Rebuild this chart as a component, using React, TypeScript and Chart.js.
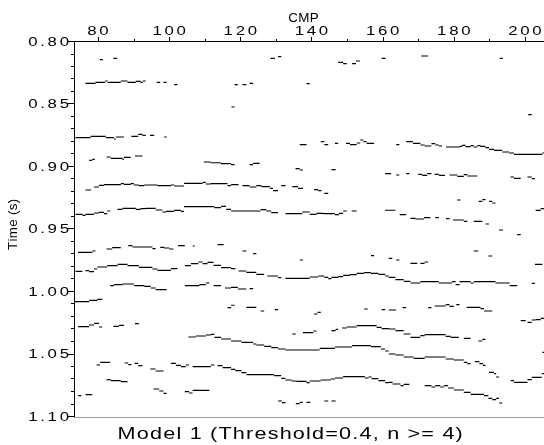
import React, { useEffect, useRef } from 'react';
import { Chart, registerables } from 'chart.js';

Chart.register(...registerables);

type Run = [number, number, number]; // [cmp start, cmp end, time]

const cmpRange = [73.26, 205.34];
const timeRange = [0.8, 1.1];
const xTickValues = [80, 100, 120, 140, 160, 180, 200];
const xMinorValues = [90, 110, 130, 150, 170, 190];
const yTickValues = [0.8, 0.85, 0.9, 0.95, 1.0, 1.05, 1.1];
const yMinorValues = [0.81, 0.82, 0.83, 0.84, 0.86, 0.87, 0.88, 0.89, 0.91, 0.92, 0.93, 0.94, 0.96, 0.97, 0.98, 0.99, 1.01, 1.02, 1.03, 1.04, 1.06, 1.07, 1.08, 1.09];
const xTitle = 'CMP';
const yTitle = 'Time (s)';
const chartTitle = 'Model 1 (Threshold=0.4, n >= 4)';

const picks081: Run[] = [[80.5,81.4,0.8145],[84.3,85.4,0.8135],[128.5,129.7,0.8135],[130.6,131.5,0.8121],[147.5,148.9,0.8167],[148.9,149.9,0.8177],[151.4,152.5,0.8177],[152.5,153.6,0.8156],[159.7,160.8,0.8135],[170.8,172.8,0.8116],[192.9,193.8,0.8135]];

const picks083: Run[] = [[76.5,79.3,0.8335],[79.3,82.0,0.8327],[82.0,82.7,0.8316],[82.7,86.4,0.8327],[86.4,88.3,0.8316],[88.3,90.6,0.8327],[90.6,92.0,0.8319],[92.0,92.6,0.8327],[92.6,93.4,0.8316],[96.5,97.5,0.8327],[98.4,99.3,0.8327],[101.4,102.3,0.8345],[118.4,119.3,0.8345],[120.6,121.7,0.8345],[122.6,123.6,0.8335],[138.6,139.5,0.8337]];

const picks085: Run[] = [[117.5,118.4,0.8524],[200.9,201.9,0.8585]];

const picks088: Run[] = [[73.7,77.9,0.8769],[77.9,82.2,0.8759],[82.2,84.5,0.8769],[84.5,85.0,0.878],[85.0,87.3,0.8764],[89.4,91.3,0.8759],[91.3,92.5,0.8743],[92.5,93.4,0.8751],[94.6,95.8,0.8751],[98.6,99.3,0.8764],
[136.7,138.6,0.8825],[142.6,143.6,0.8801],[143.6,144.7,0.8825],[146.6,147.5,0.8815],[149.7,150.8,0.8815],[150.8,152.7,0.8825],[152.7,153.7,0.8812],[153.7,154.6,0.8788],[154.6,155.5,0.8801],[155.5,157.6,0.8815],
[163.8,164.7,0.8825],[166.6,168.5,0.8801],[168.5,170.6,0.8815],[170.6,171.8,0.8828],[171.8,173.7,0.8836],[173.7,174.8,0.8817],[174.8,175.8,0.8828],[175.8,176.7,0.8836],[177.8,181.6,0.8844],[181.6,182.3,0.8839],[182.3,183.3,0.8831],[183.3,184.7,0.8841],[184.7,185.6,0.8833],[185.6,186.6,0.8844],[186.6,187.5,0.8833],[187.5,188.9,0.8839],[188.9,189.9,0.8849],[189.9,191.3,0.8863],[191.3,193.6,0.8871],[193.6,195.5,0.8884],[195.5,196.9,0.8892],[196.9,204.9,0.8903],[204.9,206,0.8892]];

const picks090: Run[] = [[77.5,78.4,0.8951],[78.4,79.1,0.8943],[82.4,83.6,0.8924],[83.6,86.9,0.8935],[86.9,87.3,0.8943],[87.3,89.2,0.8927],[90.4,92.5,0.8916],
[109.7,111.7,0.8964],[111.7,114.5,0.897],[114.5,117.4,0.8977],[117.4,118.4,0.8985],[122.6,123.6,0.8985],[123.6,125.4,0.8975],[135.5,136.7,0.9017],[136.7,137.6,0.9028],[145.6,146.8,0.9025],
[160.7,162.4,0.9057],[163.8,164.7,0.9068],[166.6,167.5,0.9057],[170.0,171.1,0.9063],[171.1,172.5,0.9071],[172.5,173.7,0.9057],[174.6,175.8,0.9063],[175.8,177.5,0.9071],[178.8,181.0,0.9068],[181.0,182.8,0.9079],[182.8,183.8,0.9065],[183.8,186.6,0.9076],[195.9,196.9,0.9084],[196.9,198.8,0.9095],[200.7,201.9,0.9084],[201.9,202.8,0.9097]];

const picks092: Run[] = [[76.5,78.1,0.9188],[78.9,80.3,0.9164],[80.3,81.7,0.9151],[81.7,86.4,0.9145],[86.4,87.3,0.9137],[87.3,89.2,0.9143],[89.2,90.1,0.9137],[90.1,91.5,0.9148],[91.5,93.0,0.9153],[93.0,96.7,0.9148],[96.7,100.5,0.9153],[100.5,101.4,0.9148],[101.4,104.2,0.9156],[104.2,109.4,0.9135],[109.4,110.3,0.9127],[110.3,111.7,0.914],[111.7,116.4,0.9137],[116.4,117.4,0.9153],
[117.4,119.5,0.9145],[120.6,122.6,0.9153],[122.6,124.5,0.9164],[124.5,125.9,0.9153],[125.9,128.3,0.9161],[128.3,129.2,0.9175],[129.2,130.6,0.9193],[131.5,132.7,0.9153],[134.6,136.2,0.9161],[136.2,137.6,0.9175],[140.7,141.9,0.9185],[141.9,142.8,0.9193],[143.6,144.7,0.9215],
[180.9,181.9,0.9268],[187.0,188.0,0.9279],[188.0,188.9,0.9265],[189.9,190.8,0.9279],[190.8,191.7,0.9292]];

const picks094: Run[] = [[73.7,75.6,0.9383],[75.6,76.5,0.9391],[76.5,78.9,0.9383],[78.9,80.3,0.9372],[80.3,81.7,0.9367],[81.7,82.6,0.9377],[82.6,83.4,0.9356],[85.5,86.9,0.9343],[86.9,90.6,0.9335],[90.6,92.0,0.9343],[92.0,93.4,0.9337],[93.4,96.2,0.9335],[96.2,98.1,0.9348],[98.1,99.1,0.9364],[99.1,101.4,0.9359],[101.4,103.3,0.9351],[103.3,104.2,0.9359],[104.2,112.7,0.9321],[112.7,114.6,0.9329],[114.6,116.0,0.9319],[116.0,117.4,0.9343],
[117.4,125.7,0.9356],[125.7,127.3,0.9345],[127.3,128.7,0.9356],[128.7,130.6,0.9369],[132.7,137.4,0.9377],[137.4,139.5,0.9364],[139.5,141.4,0.9383],[141.4,143.3,0.9375],[143.3,146.6,0.9377],[146.6,147.7,0.9385],[147.7,148.9,0.9375],[148.9,149.9,0.9356],[151.3,152.7,0.9356],[160.7,163.6,0.935],[164.8,166.6,0.9385],[167.8,169.2,0.9415],[169.2,171.6,0.942],[171.6,173.4,0.9409],[174.8,175.8,0.9409],[177.8,178.8,0.9417],[179.8,182.8,0.9428],[182.8,183.8,0.9439],[185.6,188.0,0.9439],[188.9,189.9,0.946],[203.0,204.4,0.9351],[204.4,206,0.9337]];

const picks096: Run[] = [[74.4,78.4,0.9687],[78.4,79.3,0.9676],[82.4,84.0,0.966],[84.0,86.4,0.9649],[88.5,89.7,0.9633],[89.7,95.3,0.9644],[95.3,96.2,0.9657],[97.5,98.6,0.9647],[98.6,100.0,0.9652],[100.0,101.2,0.966],[102.5,104.4,0.9633],[106.6,107.2,0.9636],[113.6,115.3,0.9625],[120.6,121.7,0.9676],[123.6,124.5,0.9697],[136.7,137.6,0.9748],[156.7,157.6,0.9713],[161.7,162.7,0.9735],[163.8,164.7,0.9748],[167.8,169.7,0.9775],[170.6,171.8,0.9775],[171.8,172.8,0.9764],[185.6,186.9,0.9676],[189.7,190.8,0.9716],[192.7,193.8,0.9508],[197.8,198.8,0.9545],[202.8,204.9,0.9783]];

const picks098: Run[] = [[73.7,75.6,0.9839],[76.5,77.5,0.9833],[77.5,78.9,0.9841],[78.9,79.8,0.982],[79.8,82.6,0.9804],[82.6,85.5,0.9793],[85.5,88.3,0.9783],[88.3,91.5,0.9793],[91.5,95.3,0.9807],[95.3,96.7,0.982],[96.7,100.5,0.9831],[100.5,102.3,0.9817],[104.4,106.1,0.9793],[106.1,108.2,0.9777],[108.2,109.4,0.9764],[109.4,110.8,0.9777],[110.8,112.5,0.9767],[112.5,114.6,0.9791],[114.6,117.4,0.9809],
[117.4,118.6,0.9817],[119.5,121.7,0.9836],[121.7,124.5,0.9847],[124.5,126.7,0.9863],[127.6,130.6,0.9876],[130.6,131.5,0.9889],[132.7,139.5,0.9895],[139.5,141.9,0.9884],[141.9,143.6,0.9876],[143.6,144.7,0.9887],[144.7,145.6,0.9897],[145.6,147.5,0.9887],[147.5,148.9,0.9881],[148.9,150.8,0.9871],[150.8,152.7,0.9865],[152.7,154.8,0.9855],[154.8,156.7,0.9849],[156.7,158.8,0.9855],[158.8,160.7,0.9863],[160.7,161.7,0.9876],
[161.7,163.6,0.9887],[163.6,165.9,0.9905],[165.9,167.8,0.9919],[167.8,170.6,0.9932],[170.6,175.8,0.9921],[175.8,179.5,0.9932],[179.5,180.5,0.9921],[180.5,181.6,0.9945],[181.6,184.7,0.9921],[184.7,185.6,0.9932],[185.6,191.7,0.9921],[191.7,195.7,0.9932],[195.7,197.8,0.9953],[201.9,202.8,0.9935]];

const picks099: Run[] = [[83.4,84.5,0.9953],[84.5,86.9,0.9945],[86.9,90.1,0.994],[90.1,93.0,0.9953],[93.0,94.8,0.9959],[94.8,96.2,0.9972],[96.2,99.3,0.9985],[104.4,108.5,0.9953],[108.5,110.3,0.9945],[110.3,111.3,0.9932],[112.5,114.6,0.9953],[115.7,117.4,0.9972],[117.4,119.3,0.9967],[119.3,121.7,0.998],[122.6,123.6,0.9977]];

const picks101: Run[] = [[73.26,77.5,1.0081],[77.5,79.8,1.0071],[79.8,81.2,1.0063],[116.4,117.4,1.0129],[117.4,118.4,1.011],[121.7,124.5,1.0127],[125.7,126.7,1.0156],[129.7,130.6,1.0145],[140.7,141.7,1.018],[141.7,142.6,1.0167],[154.8,155.8,1.014],[159.7,160.7,1.0145],[161.7,163.8,1.0148],[165.6,166.6,1.0129],[172.8,173.7,1.0129],[174.6,177.7,1.0116],[177.7,178.8,1.0105],[178.8,180.0,1.0119],[180.7,181.6,1.0105],[183.6,187.5,1.0127],[187.5,188.5,1.0137],[188.5,190.8,1.0156],[198.8,200.2,1.0233],[200.7,201.9,1.0247],[201.9,203.0,1.0228],[203.0,204.4,1.0225],[204.4,206,1.0215]];

const picks103: Run[] = [[74.4,77.5,1.0281],[77.5,78.9,1.0268],[78.9,80.3,1.0255],[80.3,81.2,1.0284],[84.3,85.9,1.0279],[85.9,87.3,1.0271],[90.4,91.5,1.0257],[134.6,135.6,1.034],[137.6,140.5,1.0329],[140.5,141.4,1.0316],[145.6,146.8,1.0313],[146.8,147.5,1.0303],[148.6,149.9,1.0292],[149.9,152.7,1.0284],[152.7,158.3,1.0273],[158.3,159.7,1.0287],[159.7,161.7,1.0297],[161.7,163.6,1.03],[163.6,165.9,1.0313],[165.9,167.8,1.034],[167.8,170.6,1.0367],[170.6,171.8,1.0353],[171.8,177.7,1.0345],[177.7,179.1,1.0359],[179.1,181.4,1.0367],[182.8,184.7,1.0375],[186.9,188.0,1.0396],[188.0,188.9,1.0383]];

const picks104: Run[] = [[105.4,107.5,1.0364],[107.5,110.3,1.0356],[110.3,111.7,1.0348],[111.7,112.7,1.0343],[112.7,114.6,1.0367],[114.6,117.4,1.038],[117.4,120.3,1.0396],[120.3,123.6,1.0407],[123.6,124.5,1.042],[124.5,126.7,1.0428],[126.7,128.7,1.0439],[128.7,130.6,1.0449],[130.6,132.7,1.046],[132.7,142.3,1.0468],[142.3,146.6,1.0455],[146.6,151.4,1.0444],[151.4,156.7,1.0433],[156.7,159.5,1.0441],[159.5,160.7,1.046],[160.7,161.7,1.0476],[161.7,163.6,1.05],[163.6,165.9,1.0508],[165.9,168.7,1.0524],[168.7,171.8,1.0535],[171.8,177.7,1.0524],[177.7,180.0,1.054],[180.0,182.8,1.0548],[182.8,183.8,1.0567],[183.8,184.7,1.0577],[185.9,187.2,1.0561],[187.2,188.2,1.0577],[188.2,188.9,1.0591],[189.9,191.3,1.0647],[191.3,191.9,1.0657],[191.9,192.7,1.0684],[196.0,196.9,1.0713],[196.9,200.7,1.0727],[200.7,201.9,1.0705],[201.9,204.7,1.0687],[204.7,206,1.0657],[204.9,206,1.0487]];

const picks106: Run[] = [[79.6,80.6,1.0588],[80.6,83.4,1.0567],[87.5,88.5,1.0572],[88.5,89.4,1.0585],[90.3,91.3,1.0575],[91.3,92.5,1.0593],[94.7,96.2,1.062],[96.2,98.4,1.0636],[100.5,101.9,1.0575],[101.9,103.3,1.0591],[103.3,104.7,1.0601],[104.7,105.6,1.0588],[106.6,111.7,1.0601],[111.7,112.7,1.0588],[113.6,115.0,1.0593],[115.0,117.4,1.0609],
[117.4,118.6,1.0623],[118.6,120.3,1.0633],[120.3,121.7,1.0649],[121.7,129.5,1.0665],[129.5,131.5,1.0673],[131.5,132.7,1.0695],[132.7,134.4,1.0708],[134.4,135.8,1.0716],[135.8,138.6,1.0719],[138.6,139.5,1.0729],[139.5,142.6,1.0716],[142.6,145.4,1.0708],[145.4,146.6,1.07],[146.6,148.9,1.0692],[148.9,155.0,1.0681],[155.0,156.0,1.0692],[156.0,156.9,1.0684],[156.9,158.8,1.0697],[158.8,160.7,1.0713],[160.7,161.7,1.0729],
[161.7,162.8,1.0727],[162.8,165.0,1.074],[165.0,165.9,1.0753],[165.9,167.5,1.0743],[171.8,173.7,1.0753],[173.7,174.8,1.0764],[174.8,176.2,1.0753],[176.2,177.2,1.0764],[177.2,178.4,1.0753],[178.4,180.0,1.0772],[180.0,182.8,1.0788],[182.8,184.7,1.0807],[184.7,188.5,1.0823],[188.5,189.7,1.0833],[189.7,190.8,1.0855],[190.8,191.9,1.0865],[191.9,192.7,1.0855],[192.7,193.6,1.0892]];

const picks108: Run[] = [[82.4,83.6,1.0705],[83.6,86.4,1.0713],[86.4,88.3,1.0721],[95.6,97.2,1.078],[97.2,98.4,1.0796],[98.4,99.3,1.0815],[104.4,105.6,1.0801],[105.6,106.6,1.0812],[106.6,111.3,1.0791],[74.4,75.3,1.0833],[76.5,78.4,1.0825],[130.6,131.7,1.0876],[131.7,132.7,1.0889],[135.6,136.7,1.0897],[136.7,137.6,1.0887],[138.6,139.7,1.0887],[143.6,144.7,1.0876],[145.6,146.8,1.0876]];

const horizons: Run[][] = [picks081, picks083, picks085, picks088, picks090, picks092, picks094, picks096, picks098, picks099, picks101, picks103, picks104, picks106, picks108];

const FONT = '"Liberation Sans", Arial, sans-serif';

function toPoints(runs: Run[]) {
  const pts: { x: number; y: number | null }[] = [];
  for (const [a, b, t] of runs) {
    pts.push({ x: a, y: t }, { x: b, y: t }, { x: b, y: null });
  }
  return pts;
}

function drawText(ctx: CanvasRenderingContext2D, text: string, x: number, y: number, align: 'left' | 'center' | 'right', sx: number, spacing: number) {
  const chars = Array.from(text);
  const widths = chars.map((c) => ctx.measureText(c).width);
  const total = widths.reduce((a, b) => a + b, 0) * sx + spacing * (chars.length - 1);
  let cx = align === 'left' ? x : align === 'center' ? x - total / 2 : x - total;
  ctx.textAlign = 'left';
  ctx.textBaseline = 'alphabetic';
  chars.forEach((c, i) => {
    ctx.save();
    ctx.translate(cx, y);
    ctx.scale(sx, 1);
    ctx.fillText(c, 0, 0);
    ctx.restore();
    cx += widths[i] * sx + spacing;
  });
}

const axisPlugin = {
  id: 'seisAxes',
  afterDraw(chart: any) {
    const { ctx, chartArea, scales } = chart;
    const xs = scales.x;
    const ys = scales.y;
    const top = chartArea.top;
    const left = chartArea.left;
    ctx.save();
    ctx.strokeStyle = '#000';
    ctx.fillStyle = '#000';
    ctx.lineWidth = 1;
    ctx.beginPath();
    xTickValues.forEach((v) => {
      const px = Math.round(xs.getPixelForValue(v)) + 0.5;
      ctx.moveTo(px, top - 4.5);
      ctx.lineTo(px, top);
    });
    xMinorValues.forEach((v) => {
      const px = Math.round(xs.getPixelForValue(v)) + 0.5;
      ctx.moveTo(px, top - 2.5);
      ctx.lineTo(px, top);
    });
    yTickValues.forEach((v) => {
      const py = Math.round(ys.getPixelForValue(v) - 0.5) + 0.5;
      ctx.moveTo(left - 6, py);
      ctx.lineTo(left, py);
    });
    yMinorValues.forEach((v) => {
      const py = Math.round(ys.getPixelForValue(v) - 0.5) + 0.5;
      ctx.moveTo(left - 3, py);
      ctx.lineTo(left, py);
    });
    ctx.stroke();

    ctx.strokeStyle = '#9a9a9a';
    ctx.beginPath();
    const by = Math.round(chartArea.bottom) + 0.5;
    ctx.moveTo(left, by);
    ctx.lineTo(chartArea.right, by);
    ctx.stroke();

    ctx.font = `12px ${FONT}`;
    xTickValues.forEach((v) => {
      drawText(ctx, String(v), xs.getPixelForValue(v), top - 6.5, 'center', 1.4, 2.7);
    });
    yTickValues.forEach((v) => {
      drawText(ctx, v.toFixed(2), left - 5, ys.getPixelForValue(v) + 4.3, 'right', 1.4, 2.7);
    });

    ctx.font = `13px ${FONT}`;
    drawText(ctx, xTitle, 303.5, 22, 'center', 1.03, 0.3);

    ctx.save();
    ctx.translate(16.5, 224.4);
    ctx.rotate(-Math.PI / 2);
    drawText(ctx, yTitle, 0, 0, 'center', 1.03, 0.3);
    ctx.restore();

    ctx.font = `16px ${FONT}`;
    drawText(ctx, chartTitle, 290.2, 439, 'center', 1.35, 1.2);
    ctx.restore();
  },
};

export default function App() {
  const ref = useRef<HTMLCanvasElement | null>(null);
  useEffect(() => {
    if (!ref.current) return;
    const chart = new Chart(ref.current, {
      type: 'line',
      data: {
        datasets: horizons.map((runs) => ({
          data: toPoints(runs) as any,
          borderColor: '#000',
          borderWidth: 1.1,
          pointRadius: 0,
          spanGaps: false,
          tension: 0,
          fill: false,
        })),
      },
      options: {
        responsive: false,
        animation: false,
        events: [],
        layout: { padding: { left: 74, top: 41.5, right: 0, bottom: 28.5 } },
        plugins: { legend: { display: false }, tooltip: { enabled: false }, title: { display: false } },
        scales: {
          x: {
            type: 'linear',
            position: 'top',
            min: cmpRange[0],
            max: cmpRange[1],
            grid: { display: false, drawTicks: false },
            ticks: { display: false },
            border: { display: true, color: '#000', width: 1 },
          },
          y: {
            type: 'linear',
            reverse: true,
            min: timeRange[0],
            max: timeRange[1],
            grid: { display: false, drawTicks: false },
            ticks: { display: false },
            border: { display: true, color: '#000', width: 1 },
          },
        },
      },
      plugins: [axisPlugin],
    });
    return () => chart.destroy();
  }, []);
  return (
    <div style={{ position: 'absolute', left: 0, top: 0, width: 544, height: 445, background: '#fff' }}>
      <canvas ref={ref} width={544} height={445} style={{ display: 'block' }} />
    </div>
  );
}
